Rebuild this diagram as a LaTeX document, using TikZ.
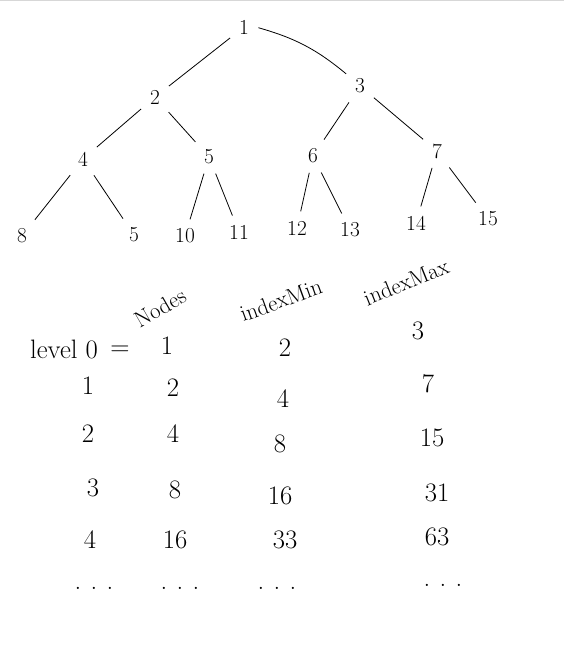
\documentclass[tikz,border=0pt]{standalone}
\usepackage{amsmath}
\usepackage{tikz}

\newcommand{\dotrow}{.\hspace{7pt}.\hspace{7pt}.}

\begin{document}
\begin{tikzpicture}[x=0.75pt,y=0.75pt,yscale=-1]
\tikzset{tnode/.style={font=\fontsize{16}{18}\selectfont, inner sep=5pt},
  cell/.style={font=\fontsize{20}{22}\selectfont, inner sep=2pt},
  head/.style={font=\fontsize{17}{19}\selectfont, inner sep=0pt},
  edge/.style={line width=0.6pt, shorten <=2pt, shorten >=2pt}}
\useasboundingbox (0,0) rectangle (564,669);
%border line at the top
\draw [color={rgb, 255:red, 215; green, 215; blue, 215 }, line width=0.8]  (0,0.5) -- (564,0.5) ;

% Tree
\node [tnode] (t1) at (244,27) {1};
\node [tnode] (t2) at (155,97) {2};
\node [tnode] (t3) at (360,86) {3};
\node [tnode] (t4) at (83,159) {4};
\node [tnode] (t5) at (209,157) {5};
\node [tnode] (t6) at (313,156) {6};
\node [tnode] (t7) at (437,151) {7};
\node [tnode] (t8) at (22,236) {8};
\node [tnode] (t9) at (134,235) {5};
\node [tnode] (t10) at (185,236) {10};
\node [tnode] (t11) at (239,232) {11};
\node [tnode] (t12) at (297,228) {12};
\node [tnode] (t13) at (350,230) {13};
\node [tnode] (t14) at (416,223) {14};
\node [tnode] (t15) at (488,219) {15};

\draw [edge] (t1) -- (t2) ;
\draw [edge] (t1.east) to [bend right=12] (t3) ;
\draw [edge] (t2) -- (t4) ;
\draw [edge] (t2) -- (t5) ;
\draw [edge] (t3) -- (t6) ;
\draw [edge] (t3) -- (t7) ;
\draw [edge] (t4) -- (t8) ;
\draw [edge] (t4) -- (t9) ;
\draw [edge] (t5) -- (t10) ;
\draw [edge] (t5) -- (t11) ;
\draw [edge] (t6) -- (t12) ;
\draw [edge] (t6) -- (t13) ;
\draw [edge] (t7) -- (t14) ;
\draw [edge] (t7) -- (t15) ;

% Table headers
\node [head, rotate=30] (hNodes) at (160,308) {Nodes};
\node [head, rotate=20] (hMin) at (281,300) {indexMin};
\node [head, rotate=22] (hMax) at (406,282) {indexMax};

% Table rows
\node [cell] (lvl) at (64,349) {level 0};
\node [cell] (eq) at (120,351) {=};
\node [cell] (n0) at (167,346) {1};
\node [cell] (a0) at (285,348) {2};
\node [cell] (b0) at (418,331) {3};

\node [cell] (l1) at (88,386) {1};
\node [cell] (n1) at (173,388) {2};
\node [cell] (a1) at (283,399) {4};
\node [cell] (b1) at (428,384) {7};

\node [cell] (l2) at (88,434) {2};
\node [cell] (n2) at (173,434) {4};
\node [cell] (a2) at (280,444) {8};
\node [cell] (b2) at (432,438) {15};

\node [cell] (l3) at (93,488) {3};
\node [cell] (n3) at (175,490) {8};
\node [cell] (a3) at (280,496) {16};
\node [cell] (b3) at (437,493) {31};

\node [cell] (l4) at (90,540) {4};
\node [cell] (n4) at (175,540) {16};
\node [cell] (a4) at (285,540) {33};
\node [cell] (b4) at (437,537) {63};

\node [cell] (l5) at (94,588) {\dotrow};
\node [cell] (n5) at (180,588) {\dotrow};
\node [cell] (a5) at (277,588) {\dotrow};
\node [cell] (b5) at (443,585) {\dotrow};

\end{tikzpicture}
\end{document}
